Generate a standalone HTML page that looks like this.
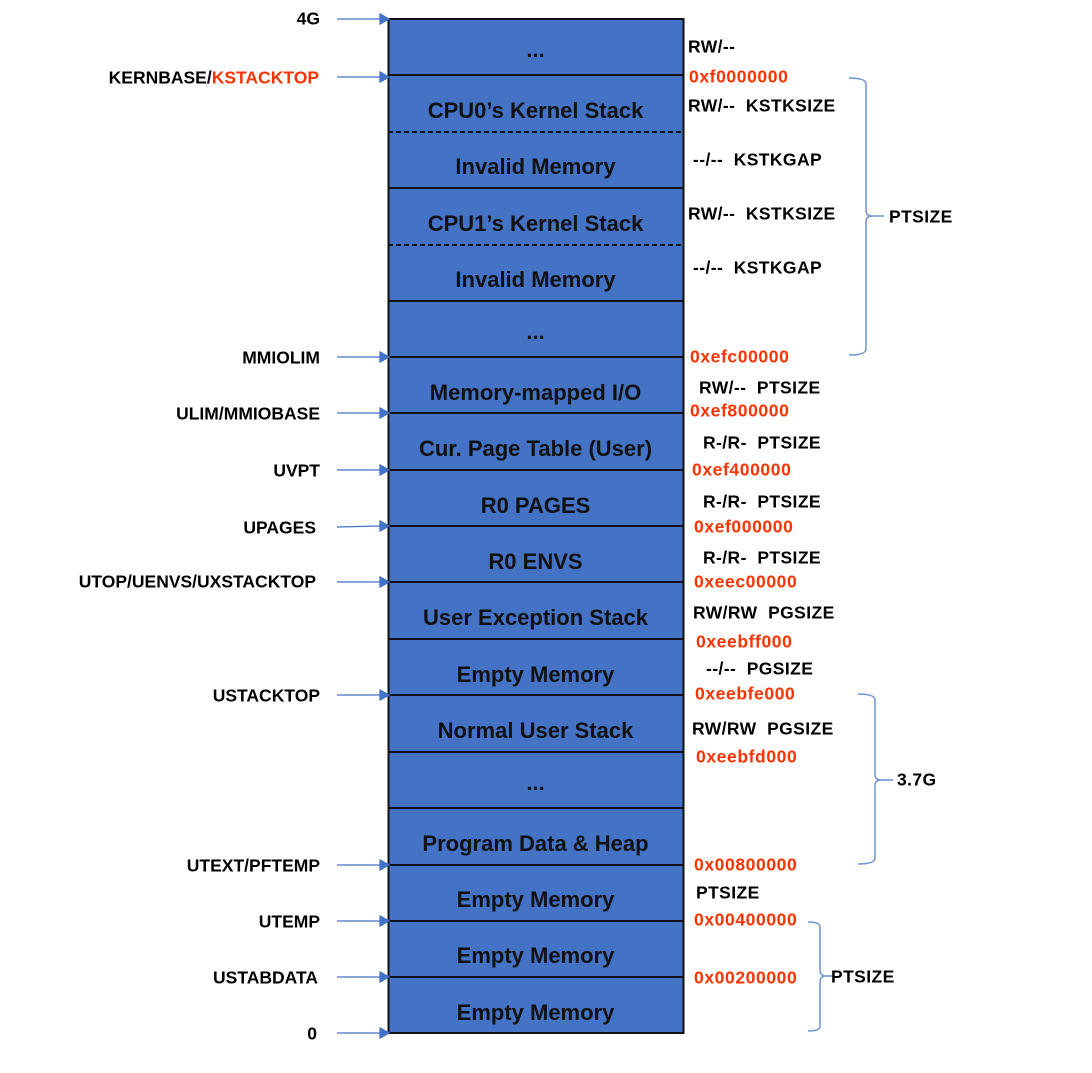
<!DOCTYPE html>
<html><head><meta charset="utf-8"><style>
body{margin:0;background:#fff;width:1092px;height:1073px;position:relative;overflow:hidden;font-family:"Liberation Sans",sans-serif;}
.t{position:absolute;white-space:pre;line-height:1;transform:translateY(-50%);font-weight:bold;}
.b{font-size:22px;color:#111;width:295px;left:388px;text-align:center;}
.l{font-size:17.5px;color:#000;right:772px;}
.r{font-size:17.5px;color:#000;letter-spacing:0.4px;}
.red{color:#ff3300;letter-spacing:0.6px;}
</style></head><body>
<svg width="1092" height="1073" style="position:absolute;left:0;top:0">
<rect x="388.5" y="19" width="295" height="1014" fill="#4472c4" stroke="#111" stroke-width="2"/>
<g stroke="#111" stroke-width="2">
<line x1="388" x2="684" y1="75" y2="75"/>
<line x1="388" x2="684" y1="188" y2="188"/>
<line x1="388" x2="684" y1="301" y2="301"/>
<line x1="388" x2="684" y1="357" y2="357"/>
<line x1="388" x2="684" y1="413" y2="413"/>
<line x1="388" x2="684" y1="470" y2="470"/>
<line x1="388" x2="684" y1="526" y2="526"/>
<line x1="388" x2="684" y1="582" y2="582"/>
<line x1="388" x2="684" y1="639" y2="639"/>
<line x1="388" x2="684" y1="695" y2="695"/>
<line x1="388" x2="684" y1="752" y2="752"/>
<line x1="388" x2="684" y1="808" y2="808"/>
<line x1="388" x2="684" y1="865" y2="865"/>
<line x1="388" x2="684" y1="921" y2="921"/>
<line x1="388" x2="684" y1="977" y2="977"/>
<line x1="388" x2="684" y1="132" y2="132" stroke-dasharray="5,3"/>
<line x1="388" x2="684" y1="245" y2="245" stroke-dasharray="5,3"/>
</g>
<g stroke="#4472c4" stroke-width="1.3" fill="#4472c4">
<line x1="337" x2="380" y1="19" y2="19"/><path d="M380 14 L389 19 L380 24Z"/>
<line x1="337" x2="380" y1="77" y2="77"/><path d="M380 72 L389 77 L380 82Z"/>
<line x1="337" x2="380" y1="357" y2="357"/><path d="M380 352 L389 357 L380 362Z"/>
<line x1="337" x2="380" y1="413" y2="413"/><path d="M380 408 L389 413 L380 418Z"/>
<line x1="337" x2="380" y1="470" y2="470"/><path d="M380 465 L389 470 L380 475Z"/>
<line x1="337" x2="380" y1="527" y2="526"/><path d="M380 521 L389 526 L380 531Z"/>
<line x1="337" x2="380" y1="582" y2="582"/><path d="M380 577 L389 582 L380 587Z"/>
<line x1="337" x2="380" y1="695" y2="695"/><path d="M380 690 L389 695 L380 700Z"/>
<line x1="337" x2="380" y1="865" y2="865"/><path d="M380 860 L389 865 L380 870Z"/>
<line x1="337" x2="380" y1="921" y2="921"/><path d="M380 916 L389 921 L380 926Z"/>
<line x1="337" x2="380" y1="977" y2="977"/><path d="M380 972 L389 977 L380 982Z"/>
<line x1="337" x2="380" y1="1033" y2="1033"/><path d="M380 1028 L389 1033 L380 1038Z"/>
</g>
<g stroke="#6f94d6" stroke-width="1.5" fill="none">
<path d="M849 78 Q866 78 866 84 L866 210 Q866 216 872 216 L884 216 M872 216 Q866 216 866 222 L866 349 Q866 355 849 355"/>
<path d="M858 694 Q875 694 875 700 L875 774 Q875 780 881 780 L893 780 M881 780 Q875 780 875 786 L875 858 Q875 864 858 864"/>
<path d="M808 922 Q820 922 820 927 L820 970 Q820 976 826 976 L832 976 M826 976 Q820 976 820 982 L820 1026 Q820 1031 808 1031"/>
</g>
</svg>
<div class="t b" style="top:50px">...</div>
<div class="t b" style="top:111px">CPU0’s Kernel Stack</div>
<div class="t b" style="top:167px">Invalid Memory</div>
<div class="t b" style="top:224px">CPU1’s Kernel Stack</div>
<div class="t b" style="top:280px">Invalid Memory</div>
<div class="t b" style="top:332px">...</div>
<div class="t b" style="top:393px">Memory-mapped I/O</div>
<div class="t b" style="top:449px">Cur. Page Table (User)</div>
<div class="t b" style="top:506px">R0 PAGES</div>
<div class="t b" style="top:562px">R0 ENVS</div>
<div class="t b" style="top:618px">User Exception Stack</div>
<div class="t b" style="top:675px">Empty Memory</div>
<div class="t b" style="top:731px">Normal User Stack</div>
<div class="t b" style="top:783px">...</div>
<div class="t b" style="top:844px">Program Data &amp; Heap</div>
<div class="t b" style="top:900px">Empty Memory</div>
<div class="t b" style="top:956px">Empty Memory</div>
<div class="t b" style="top:1013px">Empty Memory</div>

<div class="t l" style="top:19px">4G</div>
<div class="t l" style="top:78px;right:773px">KERNBASE/<span style="color:#ff3300">KSTACKTOP</span></div>
<div class="t l" style="top:358px">MMIOLIM</div>
<div class="t l" style="top:414px">ULIM/MMIOBASE</div>
<div class="t l" style="top:471px">UVPT</div>
<div class="t l" style="top:528px;right:776px">UPAGES</div>
<div class="t l" style="top:582px;right:776px">UTOP/UENVS/UXSTACKTOP</div>
<div class="t l" style="top:696px">USTACKTOP</div>
<div class="t l" style="top:866px">UTEXT/PFTEMP</div>
<div class="t l" style="top:922px">UTEMP</div>
<div class="t l" style="top:978px;right:774px">USTABDATA</div>
<div class="t l" style="top:1034px;right:775px">0</div>

<div class="t r" style="left:688px;top:47px">RW/--</div>
<div class="t r red" style="left:689px;top:77px">0xf0000000</div>
<div class="t r" style="left:688px;top:106px">RW/--  KSTKSIZE</div>
<div class="t r" style="left:693px;top:160px">--/--  KSTKGAP</div>
<div class="t r" style="left:688px;top:214px">RW/--  KSTKSIZE</div>
<div class="t r" style="left:693px;top:268px">--/--  KSTKGAP</div>
<div class="t r red" style="left:690px;top:357px">0xefc00000</div>
<div class="t r" style="left:699px;top:388px">RW/--  PTSIZE</div>
<div class="t r red" style="left:690px;top:411px">0xef800000</div>
<div class="t r" style="left:703px;top:443px">R-/R-  PTSIZE</div>
<div class="t r red" style="left:692px;top:470px">0xef400000</div>
<div class="t r" style="left:703px;top:502px">R-/R-  PTSIZE</div>
<div class="t r red" style="left:694px;top:527px">0xef000000</div>
<div class="t r" style="left:703px;top:558px">R-/R-  PTSIZE</div>
<div class="t r red" style="left:694px;top:582px">0xeec00000</div>
<div class="t r" style="left:693px;top:613px">RW/RW  PGSIZE</div>
<div class="t r red" style="left:696px;top:642px">0xeebff000</div>
<div class="t r" style="left:706px;top:669px">--/--  PGSIZE</div>
<div class="t r red" style="left:695px;top:694px">0xeebfe000</div>
<div class="t r" style="left:692px;top:729px">RW/RW  PGSIZE</div>
<div class="t r red" style="left:696px;top:757px">0xeebfd000</div>
<div class="t r red" style="left:694px;top:865px">0x00800000</div>
<div class="t r" style="left:696px;top:893px">PTSIZE</div>
<div class="t r red" style="left:694px;top:920px">0x00400000</div>
<div class="t r red" style="left:694px;top:978px">0x00200000</div>
<div class="t r" style="left:889px;top:217px">PTSIZE</div>
<div class="t r" style="left:897px;top:780px">3.7G</div>
<div class="t r" style="left:831px;top:977px">PTSIZE</div>
</body></html>
